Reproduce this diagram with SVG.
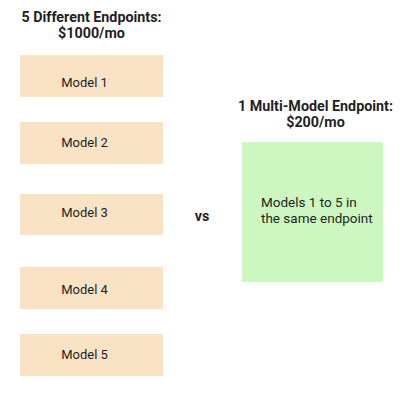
<svg xmlns="http://www.w3.org/2000/svg" width="404" height="400" viewBox="0 0 404 400">
<style>
.bg{fill:#ffffff}
.model rect{fill:#f9e3c4}
.multi rect{fill:#cdf7c1}
text{font-family:Roboto,"Liberation Sans",Arial,sans-serif;fill:#1f1f1f}
.title{font-size:14.3px;font-weight:bold;text-anchor:middle}
.label{font-size:13px;text-anchor:middle}
.body{font-size:13.5px}
</style>
<rect class="bg" x="0" y="0" width="404" height="400"/>
<g id="title-left">
<text class="title" x="91.5" y="21.5">5 Different Endpoints:</text>
<text class="title" x="91.5" y="38">$1000/mo</text>
</g>
<g id="model1" class="model">
<rect x="20" y="55" width="143" height="42"/>
<text class="label" x="84.5" y="87">Model 1</text>
</g>
<g id="model2" class="model">
<rect x="20" y="122" width="143" height="42"/>
<text class="label" x="84.5" y="147">Model 2</text>
</g>
<g id="model3" class="model">
<rect x="20" y="194" width="143" height="41"/>
<text class="label" x="84.5" y="217">Model 3</text>
</g>
<g id="model4" class="model">
<rect x="20" y="267" width="143" height="42"/>
<text class="label" x="84.5" y="294">Model 4</text>
</g>
<g id="model5" class="model">
<rect x="20" y="334" width="143" height="42"/>
<text class="label" x="84.5" y="359">Model 5</text>
</g>
<g id="vs">
<text class="title" x="202" y="221">vs</text>
</g>
<g id="title-right">
<text class="title" x="315.5" y="110.5">1 Multi-Model Endpoint:</text>
<text class="title" x="315.5" y="127">$200/mo</text>
</g>
<g id="multi-endpoint" class="multi">
<rect x="242" y="142" width="141" height="140"/>
<text class="body" x="261" y="207">Models 1 to 5 in</text>
<text class="body" x="261" y="223">the same endpoint</text>
</g>
<g id="connectors"/>
</svg>
